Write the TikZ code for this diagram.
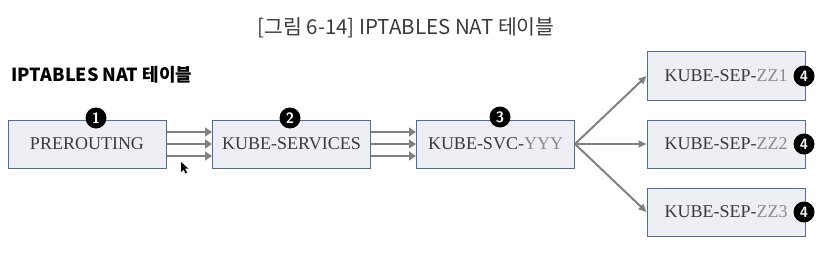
\documentclass[tikz,border=0pt]{standalone}
\usepackage{fontspec}
\setmainfont{Liberation Serif}
\newfontfamily\kr{Noto Sans CJK KR}
\usetikzlibrary{arrows.meta}
\definecolor{boxfill}{HTML}{EEEFF4}
\definecolor{boxline}{HTML}{4E6C9C}
\definecolor{txt}{HTML}{3A3A3A}
\definecolor{light}{HTML}{8A8A8A}
\definecolor{arr}{HTML}{808080}
\begin{document}
\begin{tikzpicture}[x=1pt,y=-1pt,
  chain/.style={draw=boxline,line width=1pt,fill=boxfill,minimum width=158pt,minimum height=48pt,inner sep=0pt,font=\fontsize{18}{20}\selectfont,text=txt},
  badge/.style={circle,fill=black,text=white,minimum size=21pt,inner sep=0pt,font=\sffamily\bfseries\fontsize{15}{15}\selectfont},
  flow/.style={draw=arr,line width=2.6pt,-{Triangle[length=7pt,width=9pt]}},
  fan/.style={draw=arr,line width=2pt,-{Triangle[length=8pt,width=7pt]}}]
\useasboundingbox (0,0) rectangle (826,254);
\node[font=\kr\fontsize{20.5}{20}\selectfont,text=txt] (title) at (406,28) {[그림 6-14] IPTABLES NAT 테이블};
\node[anchor=west,font=\kr\bfseries\fontsize{18}{18}\selectfont] (sub) at (8,75) {IPTABLES NAT 테이블};
\node[chain] (pre) at (87,144) {PREROUTING};
\node[chain] (svc) at (291.5,144) {KUBE-SERVICES};
\node[chain] (yyy) at (495.5,144) {KUBE-SVC-\textcolor{light}{YYY}};
\node[chain] (z1) at (726,76) {KUBE-SEP-\textcolor{light}{ZZ1}\hspace{16pt}};
\node[chain] (z2) at (726,144) {KUBE-SEP-\textcolor{light}{ZZ2}\hspace{16pt}};
\node[chain] (z3) at (726,212) {KUBE-SEP-\textcolor{light}{ZZ3}\hspace{16pt}};
\node[badge] (b1) at (96,118) {1};
\node[badge] (b2) at (290,118) {2};
\node[badge] (b3) at (500,117) {3};
\node[badge] (b4a) at (804,76) {4};
\node[badge] (b4b) at (804,144) {4};
\node[badge] (b4c) at (804,212) {4};
\foreach \dy in {-12,0,12}{
  \draw[flow] ([yshift=\dy pt]pre.east) -- ([yshift=\dy pt]svc.west);
  \draw[flow] ([yshift=\dy pt]svc.east) -- ([yshift=\dy pt]yyy.west);
}
\draw[fan] (yyy.east) -- (z1.west);
\draw[fan] (yyy.east) -- (z2.west);
\draw[fan] (yyy.east) -- (z3.west);
\coordinate (cur) at (181,162);
\fill[black] (cur) -- ++(0,10) -- ++(2.5,-2.5) -- ++(2,4) -- ++(1.5,-0.8) -- ++(-2,-4) -- ++(3.5,0) -- cycle;
\end{tikzpicture}
\end{document}
